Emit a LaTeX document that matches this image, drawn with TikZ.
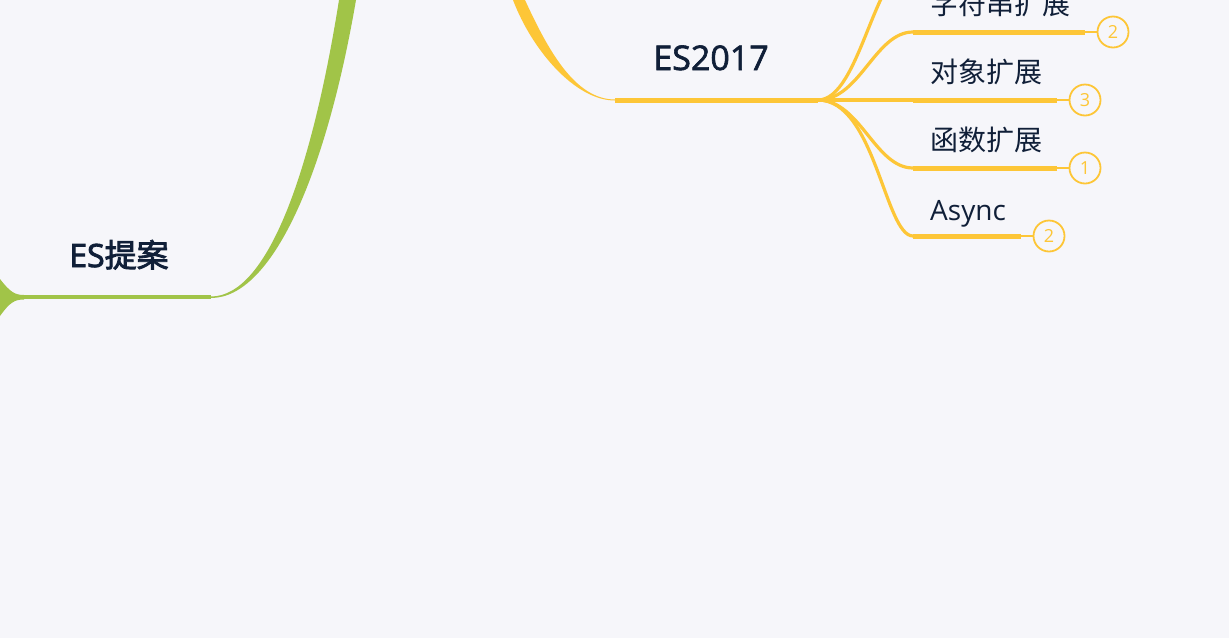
\documentclass[tikz,border=0pt]{standalone}
\usepackage{fontspec}
\setmainfont{Open Sans}
\newfontfamily\cjk{Noto Sans CJK SC}
\newfontfamily\cjkmed[FakeBold=2.6]{Noto Sans CJK SC}
\newfontfamily\latmed[FakeBold=2.8]{Open Sans}
\newfontfamily\esmed[FakeBold=1.8]{Open Sans}
\definecolor{bg}{RGB}{246,246,250}
\definecolor{grn}{RGB}{161,196,72}
\definecolor{ylw}{RGB}{253,198,55}
\definecolor{ink}{RGB}{16,31,56}
\begin{document}
\begin{tikzpicture}[x=1pt,y=-1pt,
  lbl/.style={anchor=base west, inner sep=0pt, text=ink, font=\cjk\fontsize{28}{28}\selectfont},
  badge/.style={circle, draw=ylw, line width=1.8pt, minimum size=31pt, inner sep=0pt, text=ylw, font=\fontsize{18}{18}\selectfont},
  thinln/.style={draw=ylw, line width=3.2pt},
  thickln/.style={draw=ylw, line width=5pt},
  conn/.style={draw=ylw, line width=1.8pt}]
\fill[bg] (0,0) rectangle (1229,638);
\useasboundingbox (0,0) rectangle (1229,638);
\clip (0,0) rectangle (1229,638);
% green
\coordinate (gs) at (22,297);
\coordinate (ge) at (211,297);
\fill[grn] (0,279) .. controls (10,292) and (15,295) .. (24,295) -- (24,299.5) .. controls (15,299.5) and (10,302) .. (0,316) -- cycle;
\draw[grn, line width=4.5pt] (gs) -- (ge);
\fill[grn] (211,296.5) .. controls (268,296.5) and (312,170) .. (339,0) -- (356,0) .. controls (326,175) and (272,298) .. (211,298) -- cycle;
\node[anchor=base, inner sep=0pt, text=ink, font=\latmed\fontsize{32}{32}\selectfont] (esp) at (119,267) {ES{\cjkmed 提案}};
% yellow
\coordinate (ys) at (615,100);
\coordinate (hub) at (818,100);
\fill[ylw] (615,99.5) .. controls (575,99.5) and (548,50) .. (525,0) -- (513,0) .. controls (532,50) and (575,100.5) .. (615,100.5) -- cycle;
\draw[thickln] (ys) -- (hub);
\node[anchor=base, inner sep=0pt, text=ink, font=\esmed\fontsize{34}{34}\selectfont] (es17) at (711,70) {ES2017};
\coordinate (b0) at (913,-36);
\coordinate (b1) at (913,32);
\coordinate (b2) at (913,100);
\coordinate (b3) at (913,168);
\coordinate (b4) at (913,236);
\coordinate (e0) at (1060,-36);
\coordinate (e1) at (1085,32);
\coordinate (e2) at (1057,100);
\coordinate (e3) at (1057,168);
\coordinate (e4) at (1021,236);
\draw[thinln] (hub) .. controls (860,100) and (875,-36) .. (b0);
\draw[thinln] (hub) .. controls (860,100) and (875,32) .. (b1);
\draw[thinln] (hub) -- (b2);
\draw[thinln] (hub) .. controls (860,100) and (875,168) .. (b3);
\draw[thinln] (hub) .. controls (875,100) and (885,236) .. (b4);
\draw[thickln] (b0) -- (e0);
\draw[thickln] (b1) -- (e1);
\draw[thickln] (b2) -- (e2);
\draw[thickln] (b3) -- (e3);
\draw[thickln] (b4) -- (e4);
\node[lbl] (n1) at (930,14) {字符串扩展};
\node[lbl] (n2) at (930,82) {对象扩展};
\node[lbl] (n3) at (930,150) {函数扩展};
\node[lbl, font=\fontsize{28}{28}\selectfont] (n4) at (930,220) {Async};
\node[badge] (c1) at (1113,32) {2};
\node[badge] (c2) at (1085,100) {3};
\node[badge] (c3) at (1085,168) {1};
\node[badge] (c4) at (1049,236) {2};
\draw[conn] (e1) -- (c1);
\draw[conn] (e2) -- (c2);
\draw[conn] (e3) -- (c3);
\draw[conn] (e4) -- (c4);
\end{tikzpicture}
\end{document}
